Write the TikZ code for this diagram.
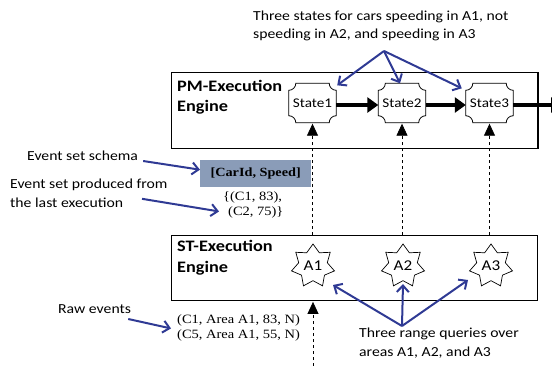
\documentclass[tikz,border=0pt]{standalone}
\usepackage{fontspec}
\setmainfont{Liberation Serif}[FakeStretch=1.14]
\setsansfont{Carlito}[FakeStretch=1.14]
\usetikzlibrary{arrows.meta,shapes.geometric}
\definecolor{callout}{HTML}{2F3A94}
\definecolor{schemafill}{HTML}{8A9CB8}

% outline of a state: a rectangle with concave (notched) corners
\newcommand\notchedoutline[2]{%
  \draw[line width=0.8pt]
    ([xshift=#2]#1.north west) -- ([xshift=-#2]#1.north east)
    arc[start angle=180, end angle=270, radius=#2]
    -- ([yshift=#2]#1.south east)
    arc[start angle=90, end angle=180, radius=#2]
    -- ([xshift=#2]#1.south west)
    arc[start angle=0, end angle=90, radius=#2]
    -- ([yshift=-#2]#1.north west)
    arc[start angle=270, end angle=360, radius=#2] -- cycle;}

\begin{document}
\begin{tikzpicture}[x=1pt,y=-1pt,
  note/.style={font=\sffamily\fontsize{13.8}{19}\selectfont, align=left, anchor=base west, inner sep=0},
  datatext/.style={font=\fontsize{12.7}{15}\selectfont, align=left, anchor=base west, inner sep=0},
  enginelabel/.style={font=\sffamily\bfseries\fontsize{16}{20.5}\selectfont, align=left, anchor=base west, inner sep=0},
  enginebox/.style={draw, line width=0.9pt, anchor=north west, inner sep=0, minimum width=366pt},
  statebox/.style={minimum width=47pt, minimum height=39pt, inner sep=0, font=\sffamily\fontsize{13.3}{15}\selectfont},
  query/.style={star, star points=7, star point ratio=1.5, draw, line width=0.7pt, minimum size=44pt, inner sep=0, font=\sffamily\fontsize{15}{17}\selectfont},
  callarrow/.style={draw=callout, line width=2pt, -{Straight Barb[length=6.5pt,width=12pt]}},
  flow/.style={line width=4.6pt, -{Triangle[length=11pt,width=15pt]}},
  feed/.style={line width=0.8pt, dash pattern=on 3pt off 3pt, -{Triangle[length=12pt,width=11pt]}},
]
\useasboundingbox (0,0) rectangle (552,365);

% engine frames (multi-line labels are placed by their last baseline)
\node[enginebox, minimum height=76pt] (pm) at (171,72) {};
\draw[line width=2pt] (pm.north east) -- (pm.south east);
\node[enginebox, minimum height=65pt] (st) at (171,235) {};
\node[enginelabel] (pmlabel) at (177,111.5) {PM-Execution\\Engine};
\node[enginelabel] (stlabel) at (177,272) {ST-Execution\\Engine};

% pattern-matching states
\node[statebox] (s1) at (312.5,103) {State1};
\node[statebox] (s2) at (402,103) {State2};
\node[statebox] (s3) at (489.5,103) {State3};
\notchedoutline{s1}{7pt}
\notchedoutline{s2}{7pt}
\notchedoutline{s3}{7pt}
\coordinate (flowout) at (562,105);
\draw[flow] ([yshift=-2pt]s1.east) -- ([yshift=-2pt]s2.west);
\draw[flow] ([yshift=-2pt]s2.east) -- ([yshift=-2pt]s3.west);
\draw[flow] ([yshift=-2pt]s3.east) -- (flowout);

% range queries
\node[query] (a1) at (313,266) {A1};
\node[query] (a2) at (403,266) {A2};
\node[query] (a3) at (491,266) {A3};

% event sets passed up from the ST engine to the states
\draw[feed] (st.north -| s1) -- ([yshift=-1pt]s1.south);
\draw[feed] (st.north -| s2) -- ([yshift=-1pt]s2.south);
\draw[feed] (st.north -| s3) -- ([yshift=-1pt]s3.south);
\coordinate (rawin) at (313,366);
\draw[feed] (rawin) -- ([yshift=-1pt]st.south -| a1);

% event set between the engines
\node[fill=schemafill, anchor=north west, minimum width=111pt, minimum height=27pt, inner sep=0,
      font=\bfseries\fontsize{12.5}{15}\selectfont] (schema) at (200,160) {[CarId, Speed]};
\node[datatext] (evset) at (223,215) {\{(C1, 83),\\\hspace{5pt}(C2, 75)\}};

% raw input events
\node[datatext] (raw) at (177,338) {(C1, Area A1, 83, N)\\(C5, Area A1, 55, N)};

% annotations
\node[note, font=\sffamily\fontsize{13.8}{17.5}\selectfont] (statesnote) at (253,38)
  {Three states for cars speeding in A1, not\\speeding in A2, and speeding in A3};
\coordinate (statessplit) at (384,51);
\draw[callarrow] (statessplit) -- ([shift={(1pt,-2pt)}]s1.north east);
\draw[callarrow] (statessplit) -- ([xshift=-2pt]s2.north);
\draw[callarrow] (statessplit) -- ([shift={(-4pt,-5pt)}]s3.north west);

\node[note] (queriesnote) at (359,356) {Three range queries over\\areas A1, A2, and A3};
\coordinate (queriessplit) at (402,326);
\draw[callarrow] (queriessplit) -- ([shift={(20pt,-19pt)}]a1.center);
\draw[callarrow] (queriessplit) -- ([yshift=-3pt]a2.south);
\draw[callarrow] (queriessplit) -- ([shift={(-23pt,-14pt)}]a3.center);

\node[note] (schemanote) at (27,160) {Event set schema};
\draw[callarrow] ([shift={(5pt,-1pt)}]schemanote.base east) -- ([shift={(0pt,4pt)}]schema.west);

\node[note] (setnote) at (10,207) {Event set produced from\\the last execution};
\draw[callarrow] ([shift={(132pt,8.5pt)}]setnote.south west) -- ([shift={(-4pt,-7pt)}]evset.west);

\node[note] (rawnote) at (58,313) {Raw events};
\draw[callarrow] ([shift={(-3pt,-6pt)}]rawnote.base east) -- ([shift={(-6pt,-1pt)}]raw.west);
\end{tikzpicture}
\end{document}
